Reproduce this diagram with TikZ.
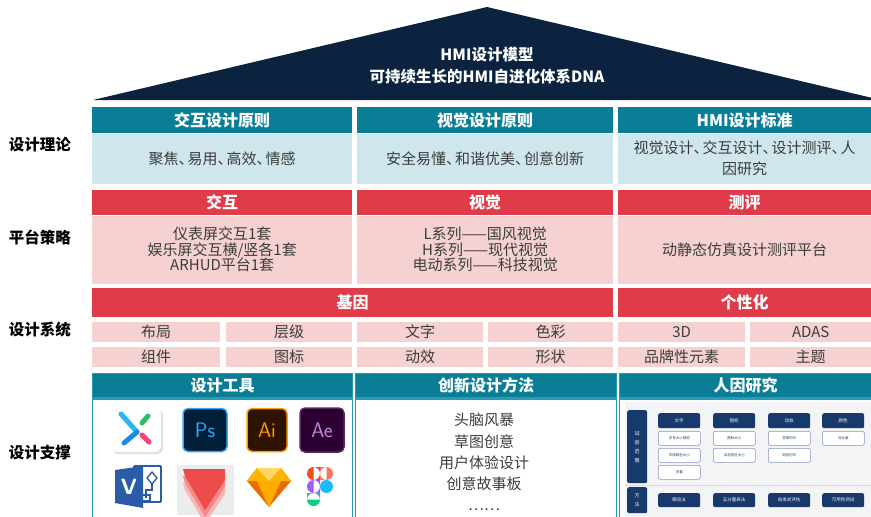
\documentclass[tikz,border=0pt]{standalone}
\usepackage{fontspec}
\setmainfont{Noto Sans CJK SC}
\usepackage{xcolor}
\usepackage{tikz}
\usetikzlibrary{positioning}

\definecolor{roofnavy}{HTML}{0C2340}
\definecolor{tealhd}{HTML}{0B7E97}
\definecolor{tealline}{HTML}{2A9BB4}
\definecolor{lightblue}{HTML}{CFE6EC}
\definecolor{redhd}{HTML}{DF3B48}
\definecolor{pinkfill}{HTML}{F5D1D1}
\definecolor{bodytext}{HTML}{3C3C3C}
\definecolor{hfnavy}{HTML}{17396B}
\definecolor{hfline}{HTML}{8796C4}
\definecolor{hfback}{HTML}{F3F4F6}
% app icon colours
\definecolor{xblue}{HTML}{1E88E5}
\definecolor{xcyan}{HTML}{29B6F6}
\definecolor{xgreen}{HTML}{2DBE60}
\definecolor{xpink}{HTML}{F0487A}
\definecolor{psbg}{HTML}{001E36}
\definecolor{psline}{HTML}{31A8FF}
\definecolor{aibg}{HTML}{2E1300}
\definecolor{ailine}{HTML}{FF9A00}
\definecolor{aebg}{HTML}{2A0030}
\definecolor{aetext}{HTML}{C986D9}
\definecolor{visblue}{HTML}{2B5CA8}
\definecolor{iconred}{HTML}{EE4B4B}
\definecolor{sketchtop}{HTML}{FDB300}
\definecolor{sketchlight}{HTML}{FDD862}
\definecolor{sketchside}{HTML}{EA6C00}
\definecolor{sketchmid}{HTML}{FDAD00}
\definecolor{figred}{HTML}{F24E1E}
\definecolor{figsalmon}{HTML}{FF7262}
\definecolor{figpurple}{HTML}{A259FF}
\definecolor{figblue}{HTML}{1ABCFE}
\definecolor{figgreen}{HTML}{0ACF83}

% narrow enumeration comma
\newcommand\dunhao{、\kern-0.4em}

\begin{document}
\begin{tikzpicture}[x=1pt, y=-1pt,
	panel/.style = {anchor=north west, inner sep=0pt, align=center},
	tealhead/.style = {panel, fill=tealhd, text=white,
		font=\bfseries\fontsize{16}{18}\selectfont, minimum height=26pt},
	bluebody/.style = {panel, fill=lightblue, text=bodytext,
		font=\fontsize{15}{21}\selectfont},
	redhead/.style = {panel, fill=redhd, text=white,
		font=\bfseries\fontsize{16}{18}\selectfont},
	pinkbody/.style = {panel, fill=pinkfill, text=bodytext,
		font=\fontsize{15}{15.5}\selectfont},
	cell/.style = {pinkbody, minimum height=20pt},
	toolhead/.style = {tealhead, draw=tealline, line width=1pt, minimum height=24pt},
	toolbody/.style = {panel, fill=white, draw=tealline, line width=1.5pt},
	layer/.style = {font=\bfseries\fontsize{15.5}{18}\selectfont},
	appicon/.style = {rounded corners=5pt, line width=1.5pt, inner sep=0pt,
		font=\sffamily\fontsize{21}{21}\selectfont},
	hfbar/.style = {panel, fill=hfnavy, text=white, rounded corners=2pt,
		font=\fontsize{4.5}{6}\selectfont},
	hfitem/.style = {panel, fill=white, draw=hfline, line width=0.6pt, text=hfnavy,
		rounded corners=2pt, minimum width=42pt, minimum height=14pt,
		font=\fontsize{3.5}{4}\selectfont}
]
\useasboundingbox (0,0) rectangle (871,517);

% roof
\fill[roofnavy] (93,100) -- (487,7) -- (881,100) -- cycle;
\node[text=white, align=center, font=\bfseries\fontsize{15.5}{22}\selectfont] (model) at (487,66)
	{HMI设计模型\\可持续生长的HMI自进化体系DNA};

% layer names
\node[layer] (theory) at (40,145) {设计理论};
\node[layer] (platform) at (40,237) {平台策略};
\node[layer] (system) at (40,330) {设计系统};
\node[layer] (support) at (40,453) {设计支撑};

% design theory
\node[tealhead, minimum width=260pt] (prin1) at (92,107) {交互设计原则};
\node[tealhead, minimum width=256pt] (prin2) at (357,107) {视觉设计原则};
\node[tealhead, minimum width=253pt] (prin3) at (618,107) {HMI设计标准};
\node[bluebody, minimum width=260pt, minimum height=50pt, below=0pt of prin1] (theory1)
	{聚焦\dunhao 易用\dunhao 高效\dunhao 情感};
\node[bluebody, minimum width=256pt, minimum height=50pt, below=0pt of prin2] (theory2)
	{安全易懂\dunhao 和谐优美\dunhao 创意创新};
\node[bluebody, minimum width=253pt, minimum height=50pt, below=0pt of prin3] (theory3)
	{视觉设计\dunhao 交互设计\dunhao 设计测评\dunhao 人\\因研究};

% platform strategy
\node[redhead, minimum width=260pt, minimum height=25pt] (plat1) at (92,190) {交互};
\node[redhead, minimum width=256pt, minimum height=25pt] (plat2) at (357,190) {视觉};
\node[redhead, minimum width=253pt, minimum height=25pt] (plat3) at (618,190) {测评};
\node[pinkbody, minimum width=260pt, minimum height=68pt, below=0pt of plat1] (strat1)
	{仪表屏交互1套\\娱乐屏交互横/竖各1套\\ARHUD平台1套};
\node[pinkbody, minimum width=256pt, minimum height=68pt, below=0pt of plat2] (strat2)
	{L系列——国风视觉\\H系列——现代视觉\\电动系列——科技视觉};
\node[pinkbody, minimum width=253pt, minimum height=68pt, below=0pt of plat3] (strat3)
	{动静态仿真设计测评平台};

% design system
\node[redhead, minimum width=521pt, minimum height=29pt] (gene) at (92,288) {基因};
\node[redhead, minimum width=253pt, minimum height=29pt] (persona) at (618,288) {个性化};
\node[cell, minimum width=128pt] (layout) at (92,322) {布局};
\node[cell, minimum width=126pt] (level) at (226,322) {层级};
\node[cell, minimum width=126pt] (type) at (357,322) {文字};
\node[cell, minimum width=125pt] (colour) at (488,322) {色彩};
\node[cell, minimum width=127pt] (threed) at (618,322) {3D};
\node[cell, minimum width=121pt] (adas) at (750,322) {ADAS};
\node[cell, minimum width=128pt] (widget) at (92,347) {组件};
\node[cell, minimum width=126pt] (icon) at (226,347) {图标};
\node[cell, minimum width=126pt] (motion) at (357,347) {动效};
\node[cell, minimum width=125pt] (shape) at (488,347) {形状};
\node[cell, minimum width=127pt] (brand) at (618,347) {品牌性元素};
\node[cell, minimum width=121pt] (theme) at (750,347) {主题};

% design support
\node[toolhead, minimum width=260pt] (tools) at (92,373) {设计工具};
\node[toolhead, minimum width=261pt] (method) at (355,373) {创新设计方法};
\node[toolhead, minimum width=252pt] (human) at (619,373) {人因研究};
\node[toolbody, minimum width=260pt, minimum height=130pt, below=0pt of tools] (toolset) {};
\node[toolbody, minimum width=261pt, minimum height=130pt, below=0pt of method] (methodset) {};
\node[toolbody, minimum width=252pt, minimum height=130pt, below=0pt of human] (humanset) {};
\node[text=bodytext, align=center, font=\fontsize{15}{21.2}\selectfont] (ideas) at (484,462)
	{头脑风暴\\草图创意\\用户体验设计\\创意故事板\\……};

% tool icons, first row
\begin{scope}[shift={(137,430)}]
	\fill[gray!25, rounded corners=6pt] (-24,-21) rectangle (26,24);
	\fill[white, rounded corners=6pt] (-25,-23) rectangle (24,22);
	\draw[xcyan, line width=5pt, line cap=round] (-16,-16) -- (0,2);
	\draw[xblue, line width=5pt, line cap=round] (0,2) -- (-13,13);
	\draw[xgreen, line width=5pt, line cap=round] (5,-7) -- (11,-14);
	\draw[xpink, line width=5pt, line cap=round] (5,5) -- (12,12);
\end{scope}
\node[appicon, fill=psbg, draw=psline, text=psline, minimum width=44pt, minimum height=43pt] (ps)
	at (205,430) {Ps};
\node[appicon, fill=aibg, draw=ailine, text=ailine, minimum width=40pt, minimum height=43pt] (ai)
	at (267,430) {Ai};
\node[appicon, fill=aebg, draw=aebg!70!aetext, text=aetext, minimum width=44pt, minimum height=44pt] (ae)
	at (322,430) {Ae};

% tool icons, second row
\begin{scope}[shift={(138,486)}]
	\draw[visblue, line width=1.8pt, rounded corners=1pt] (-4,-20) rectangle (23,16);
	\draw[visblue, line width=1.3pt] (14,-14) -- (19,-8) -- (14,-2) -- (9,-8) -- cycle;
	\draw[visblue, line width=1.3pt] (14,-2) -- (14,4) -- (8,4) -- (8,12);
	\draw[visblue, line width=1.3pt] (4,9) rectangle (12,15);
	\fill[visblue] (-23,-16) -- (5,-20) -- (5,22) -- (-23,17) -- cycle;
	\node[text=white, font=\sffamily\bfseries\fontsize{22}{22}\selectfont] (visio) at (-9,1) {V};
\end{scope}
\fill[gray!15] (177,465) rectangle (234,515);
\foreach \d/\o in {14/40, 7/65, 0/100}
	\fill[iconred!\o!white, shift={(0,\d)}] (183,469) -- (225,469) -- (225,480) -- (205,510) -- (185,476) -- cycle;
\begin{scope}[shift={(269,487)}]
	\fill[sketchside] (-12,-19) -- (12,-19) -- (22,-6) -- (0,20) -- (-22,-6) -- cycle;
	\fill[sketchtop] (-12,-19) -- (12,-19) -- (22,-6) -- (-22,-6) -- cycle;
	\fill[sketchlight] (-12,-19) -- (12,-19) -- (0,-6) -- cycle;
	\fill[sketchmid] (-12,-6) -- (12,-6) -- (0,20) -- cycle;
\end{scope}
% figma: two columns of 13pt blocks
\fill[figred] (313.5,467) rectangle (320,480) (313.5,473.5) circle (6.5);
\fill[figsalmon] (320,467) rectangle (326.5,480) (326.5,473.5) circle (6.5);
\fill[figpurple] (313.5,480) rectangle (320,493) (313.5,486.5) circle (6.5);
\fill[figblue] (326.5,486.5) circle (6.5);
\fill[figgreen] (307,493) rectangle (320,499.5) (313.5,499.5) circle (6.5);

% human factors sheet
\fill[hfback] (625,402) rectangle (871,517);
\draw[gray!30] (625,485) -- (871,485);
\node[hfbar, minimum width=20pt, minimum height=73pt, font=\fontsize{5}{9}\selectfont] (range)
	at (627,410) {试\\验\\范\\围};
\node[hfbar, minimum width=20pt, minimum height=26pt, font=\fontsize{5}{9}\selectfont] (ways)
	at (627,487) {方\\法};
\foreach \x/\t [count=\i] in {658/文字, 713/图标, 768/动效, 822/颜色}
	\node[hfbar, minimum width=42pt, minimum height=15pt] (dim\i) at (\x,413) {\t};
\node[hfitem] (font1) at (658,431) {字号大小规范};
\node[hfitem] (font2) at (658,448) {字体颜色大小};
\node[hfitem] (font3) at (658,465) {字重};
\node[hfitem] (icon1) at (713,431) {图标大小};
\node[hfitem] (icon2) at (713,448) {点击热区大小};
\node[hfitem] (move1) at (768,431) {变换时长};
\node[hfitem] (move2) at (768,448) {响应时长};
\node[hfitem] (hue1) at (822,431) {对比度};
\foreach \x/\t [count=\i] in {658/眼动法, 713/五分量表法, 768/启发式评估, 822/可用性测试}
	\node[hfbar, minimum width=42pt, minimum height=14pt] (way\i) at (\x,493) {\t};
\end{tikzpicture}
\end{document}
